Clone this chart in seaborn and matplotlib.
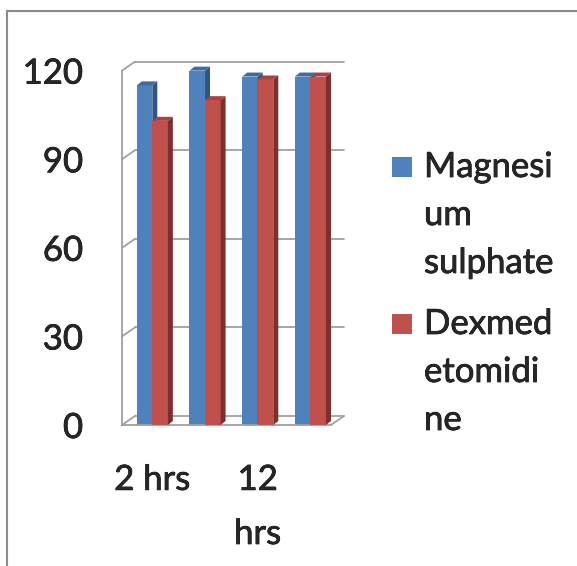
import matplotlib
matplotlib.use("Agg")
import matplotlib.pyplot as plt
import matplotlib.patheffects as pe
import seaborn as sns
import pandas as pd
from matplotlib.patches import Polygon, Rectangle

# data
categories = ["2 hrs", "6 hrs", "12 hrs", "24 hrs"]
shown_labels = ["2 hrs", "", "12\nhrs", ""]
series = ["Magnesium sulphate", "Dexmedetomidine"]
magnesium = [115, 120, 118, 118]
dexmed = [103, 110, 117, 118]
yticks = [0, 30, 60, 90, 120]
legend_lines = [["Magnesi", "um", "sulphate"], ["Dexmed", "etomidi", "ne"]]

front_colors = ["#4F81BD", "#C0504D"]
side_colors = ["#2F5585", "#7E2E2C"]
top_colors = ["#3D6BA3", "#A8413F"]
grid_color = "#A0A0A0"
FS = 25
heavy = [pe.withStroke(linewidth=0.5, foreground="black")]

df = pd.DataFrame({
    "time": categories * 2,
    "series": [series[0]] * 4 + [series[1]] * 4,
    "value": magnesium + dexmed,
})

sns.set_style("white")
plt.rcParams["font.family"] = ["Lato", "DejaVu Sans"]

W, H = 577, 566
fig = plt.figure(figsize=(W / 100, H / 100), dpi=100)
# axes placed in pixels: front plot area 122..331 x, 0 at y=425
ax_l, ax_r, y0_px, px_per_unit = 122, 331, 425, 2.953
ymax = 125
ax = fig.add_axes([ax_l / W, (H - y0_px) / H, (ax_r - ax_l) / W, ymax * px_per_unit / H])

sns.barplot(data=df, x="time", y="value", hue="series", order=categories,
            hue_order=series, palette=front_colors, width=0.59, saturation=1,
            legend=False, ax=ax, linewidth=0)

xl, xr = -0.575, 3.39
ax.set_xlim(xl, xr)
ax.set_ylim(0, ymax)
sx = (xr - xl) / (ax_r - ax_l)   # data units per pixel, x
sy = 1 / px_per_unit             # data units per pixel, y

# 3D look of bars
bd_x, bd_y = 5 * sx, 4 * sy
for i, p in enumerate(ax.patches):
    k = i // len(categories)
    z = 2 + k
    p.set_zorder(z)
    x0, w, h = p.get_x(), p.get_width(), p.get_height()
    side = Polygon([(x0 + w, 0), (x0 + w, h), (x0 + w + bd_x, h + bd_y), (x0 + w + bd_x, bd_y)],
                   closed=True, fc=side_colors[k], ec="none", zorder=z + 0.1)
    top = Polygon([(x0, h), (x0 + w, h), (x0 + w + bd_x, h + bd_y), (x0 + bd_x, h + bd_y)],
                  closed=True, fc=top_colors[k], ec="none", zorder=z + 0.1)
    ax.add_patch(side)
    ax.add_patch(top)

# back wall gridlines, side wall and floor
wd_x, wd_y = 13 * sx, 9 * sy
for yv in yticks:
    ax.plot([xl + wd_x, xr + wd_x], [yv + wd_y, yv + wd_y], color=grid_color, lw=1.3,
            zorder=1, clip_on=False)
    ax.plot([xl, xl + wd_x], [yv, yv + wd_y], color=grid_color, lw=1.3, zorder=1, clip_on=False)
ax.plot([xr, xr + wd_x], [0, wd_y], color=grid_color, lw=1.3, zorder=1, clip_on=False)

for s in ["top", "right"]:
    ax.spines[s].set_visible(False)
ax.spines["left"].set_bounds(0, 120)
for s in ["left", "bottom"]:
    ax.spines[s].set_color(grid_color)
    ax.spines[s].set_linewidth(1.3)

ax.set_yticks(yticks)
ax.set_yticklabels([str(v) for v in yticks])
step = (xr - xl) / len(categories)
ax.set_xticks([xl + i * step for i in range(len(categories) + 1)])
ax.set_xticklabels([])
ax.set_xticks(range(len(categories)), minor=True)
ax.set_xticklabels(shown_labels, minor=True, linespacing=1.85)
ax.tick_params(axis="both", which="major", length=9, width=1.3, color=grid_color,
               direction="out", labelsize=FS, pad=19)
ax.tick_params(axis="x", which="minor", length=0, labelsize=FS, pad=28)
for t in ax.get_yticklabels() + ax.get_xticklabels(minor=True):
    t.set_path_effects(heavy)
ax.set_xlabel("")
ax.set_ylabel("")

# legend, wrapped like the original
leg_x_sq, leg_x_txt = 392, 424
leg_starts = [177, 334]
line_step = 48
for k, lines in enumerate(legend_lines):
    base = leg_starts[k]
    fig.patches.append(Rectangle((leg_x_sq / W, (H - base) / H), 20 / W, 20 / H,
                                 transform=fig.transFigure, fc=front_colors[k], ec="none"))
    for j, t in enumerate(lines):
        fig.text(leg_x_txt / W, (H - base - j * line_step) / H, t, fontsize=FS,
                 va="baseline", ha="left", path_effects=heavy)

# outer chart border
fig.patches.append(Rectangle((7 / W, -0.1), 1.0, (H - 10.5) / H + 0.1, transform=fig.transFigure,
                             fill=False, ec="#8C8C8C", lw=1.5))

fig.savefig("out.png", dpi=100)
